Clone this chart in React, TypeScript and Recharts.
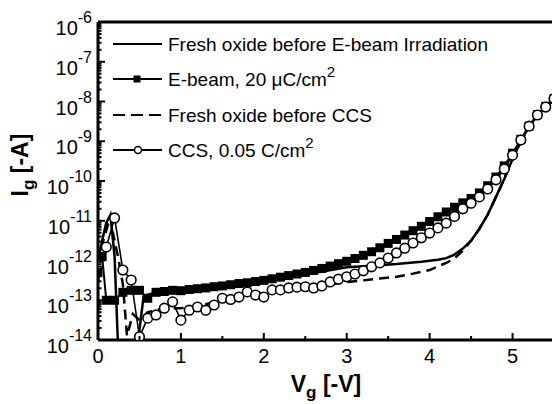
import { LineChart, Line, XAxis, YAxis, ReferenceLine } from "recharts";

const FONT = '"Liberation Sans", Arial, Helvetica, sans-serif';

// values are log10(Ig / A), V is gate voltage [-V]

// Fresh oxide before E-beam Irradiation (solid line)
const freshEbV = [0, 0.05, 0.1, 0.15, 0.2, 0.25, 0.45, 0.55, 0.7, 1.0, 1.5, 2.0, 2.5, 3.0, 3.3, 3.6, 3.9, 4.1, 4.2, 4.3, 4.4, 4.5, 4.6, 4.7, 4.8, 4.9, 5.0, 5.1, 5.2, 5.3, 5.4, 5.5];
const freshEbLog = [-12.0, -11.5, -11.05, -10.85, -11.9, -14.6, -14.6, -12.9, -12.8, -12.78, -12.66, -12.52, -12.35, -12.17, -12.13, -12.09, -12.03, -11.98, -11.94, -11.85, -11.7, -11.5, -11.2, -10.85, -10.4, -9.95, -9.45, -9.0, -8.62, -8.35, -8.14, -7.93];

// E-beam, 20 uC/cm2 (filled squares)
const ebeamV = [0, 0.05, 0.1, 0.2, 0.3, 0.4, 0.5, 0.6, 0.7, 0.8, 0.9, 1.0, 1.1, 1.2, 1.3, 1.4, 1.5, 1.6, 1.7, 1.8, 1.9, 2.0, 2.1, 2.2, 2.3, 2.4, 2.5, 2.6, 2.7, 2.8, 2.9, 3.0, 3.1, 3.2, 3.3, 3.4, 3.5, 3.6, 3.7, 3.8, 3.9, 4.0, 4.1, 4.2, 4.3, 4.4, 4.5, 4.6, 4.7, 4.8, 4.9, 5.0, 5.1, 5.2, 5.3, 5.4, 5.5];
const ebeamLog = [-12.3, -11.9, -13.0, -13.0, -12.8, -12.75, -12.75, -12.95, -12.8, -12.78, -12.75, -12.76, -12.73, -12.71, -12.69, -12.66, -12.64, -12.61, -12.58, -12.56, -12.53, -12.5, -12.46, -12.42, -12.38, -12.34, -12.3, -12.25, -12.2, -12.14, -12.08, -12.02, -11.95, -11.87, -11.78, -11.68, -11.57, -11.47, -11.36, -11.25, -11.14, -11.02, -10.9, -10.78, -10.66, -10.55, -10.44, -10.3, -10.12, -9.9, -9.62, -9.3, -8.95, -8.62, -8.33, -8.12, -7.93];

// Fresh oxide before CCS (dashed)
const freshCcsV = [0, 0.05, 0.12, 0.18, 0.25, 0.3, 0.35, 0.42, 0.5, 0.6, 0.7, 0.8, 1.0, 1.2, 1.4, 1.6, 1.8, 2.0, 2.2, 2.4, 2.6, 2.8, 3.0, 3.2, 3.4, 3.6, 3.8, 4.0, 4.2, 4.3, 4.4, 4.5, 4.6, 4.7, 4.8, 4.9, 5.0, 5.1, 5.2, 5.3, 5.4, 5.5];
const freshCcsLog = [-12.5, -11.6, -11.1, -11.3, -12.0, -12.6, -13.9, -13.35, -13.5, -13.3, -13.25, -13.2, -13.2, -13.15, -13.05, -12.95, -12.85, -12.82, -12.75, -12.7, -12.68, -12.6, -12.54, -12.5, -12.45, -12.41, -12.33, -12.24, -12.06, -11.95, -11.75, -11.5, -11.2, -10.85, -10.4, -9.95, -9.45, -9.0, -8.62, -8.35, -8.14, -7.93];

// CCS, 0.05 C/cm2 (open circles)
const ccsV = [0, 0.1, 0.2, 0.3, 0.4, 0.5, 0.6, 0.7, 0.8, 0.9, 1.0, 1.1, 1.2, 1.3, 1.4, 1.5, 1.6, 1.7, 1.8, 1.9, 2.0, 2.1, 2.2, 2.3, 2.4, 2.5, 2.6, 2.7, 2.8, 2.9, 3.0, 3.1, 3.2, 3.3, 3.4, 3.5, 3.6, 3.7, 3.8, 3.9, 4.0, 4.1, 4.2, 4.3, 4.4, 4.5, 4.6, 4.7, 4.8, 4.9, 5.0, 5.1, 5.2, 5.3, 5.4, 5.5];
const ccsLog = [-12.1, -11.66, -10.93, -12.24, -12.49, -13.92, -13.45, -13.37, -13.2, -13.04, -13.5, -13.25, -13.17, -13.25, -13.12, -12.95, -12.98, -12.92, -12.79, -12.87, -12.92, -12.74, -12.74, -12.69, -12.67, -12.66, -12.69, -12.64, -12.54, -12.47, -12.41, -12.34, -12.26, -12.16, -12.06, -11.94, -11.81, -11.69, -11.56, -11.43, -11.31, -11.18, -11.06, -10.89, -10.7, -10.56, -10.4, -10.2, -9.97, -9.7, -9.35, -8.97, -8.62, -8.34, -8.14, -7.93];

const xTicks = [0, 0.5, 1, 1.5, 2, 2.5, 3, 3.5, 4, 4.5, 5, 5.5];
const yDecades = [-14, -13, -12, -11, -10, -9, -8, -7, -6];

const zip = (v: number[], l: number[]) => v.map((x, i) => ({ v: x, log: l[i] }));

const yTicks: number[] = [];
yDecades.forEach((d) => {
  yTicks.push(d);
  if (d < -6) for (let k = 2; k <= 9; k++) yTicks.push(d + Math.log10(k));
});

const XTick = (p: any) => {
  const val = p.payload.value;
  const major = Number.isInteger(val);
  return (
    <g>
      <line x1={p.x} x2={p.x} y1={p.y} y2={p.y - (major ? 7 : 4)} stroke="#000" strokeWidth={2} />
      {major && (
        <text x={p.x} y={p.y + 23} textAnchor="middle" fontSize={20} fontFamily={FONT} fill="#000">
          {val}
        </text>
      )}
    </g>
  );
};

const YTick = (p: any) => {
  const val = p.payload.value;
  const major = Math.abs(val - Math.round(val)) < 1e-6;
  return (
    <g>
      <line x1={p.x} x2={p.x + (major ? 7 : 3.5)} y1={p.y} y2={p.y} stroke="#000" strokeWidth={2} />
      {major && (
        <text x={p.x - 6} y={p.y + 13} textAnchor="end" fontFamily={FONT} fill="#000">
          <tspan fontSize={20}>10</tspan>
          <tspan fontSize={16} dy={-12}>{Math.round(val)}</tspan>
        </text>
      )}
    </g>
  );
};

const SquareDot = (p: any) =>
  p.cx == null ? null : <rect key={`sq-${p.index}`} x={p.cx - 4.5} y={p.cy - 4.5} width={9} height={9} fill="#000" />;

const CircleDot = (p: any) =>
  p.cx == null ? null : <circle key={`ci-${p.index}`} cx={p.cx} cy={p.cy} r={4.8} fill="#fff" stroke="#000" strokeWidth={1.6} />;

const legendRows = [44, 79, 115, 150];

export default function App() {
  return (
    <div style={{ position: "absolute", left: 0, top: 0, width: 552, height: 404, overflow: "hidden", background: "#fff" }}>
      <LineChart width={556} height={404} margin={{ top: 22, right: 2, bottom: 0, left: 8 }}>
        <XAxis
          type="number"
          dataKey="v"
          domain={[0, 5.5]}
          ticks={xTicks}
          allowDataOverflow
          tickSize={0}
          tickMargin={0}
          tickLine={false}
          axisLine={{ stroke: "#000", strokeWidth: 3 }}
          tick={<XTick />}
          height={64}
          interval={0}
        />
        <YAxis
          type="number"
          dataKey="log"
          domain={[-14, -6]}
          ticks={yTicks}
          allowDataOverflow
          tickSize={0}
          tickMargin={0}
          tickLine={false}
          axisLine={{ stroke: "#000", strokeWidth: 3 }}
          tick={<YTick />}
          width={90}
          interval={0}
        />
        <ReferenceLine y={-6} stroke="#000" strokeWidth={3} />
        <Line data={zip(freshCcsV, freshCcsLog)} dataKey="log" stroke="#000" strokeWidth={2.5} strokeDasharray="10 6" dot={false} isAnimationActive={false} />
        <Line data={zip(freshEbV, freshEbLog)} dataKey="log" stroke="#000" strokeWidth={2.5} dot={false} isAnimationActive={false} />
        <Line data={zip(ebeamV, ebeamLog)} dataKey="log" stroke="#000" strokeWidth={2} dot={SquareDot} isAnimationActive={false} />
        <Line data={zip(ccsV, ccsLog)} dataKey="log" stroke="#000" strokeWidth={1.6} dot={CircleDot} isAnimationActive={false} />
      </LineChart>

      <svg width={552} height={404} style={{ position: "absolute", left: 0, top: 0, pointerEvents: "none" }} fontFamily={FONT}>
        {/* legend */}
        <line x1={113} x2={162} y1={legendRows[0]} y2={legendRows[0]} stroke="#000" strokeWidth={2} />
        <line x1={113} x2={162} y1={legendRows[1]} y2={legendRows[1]} stroke="#000" strokeWidth={2} />
        <rect x={133.5} y={legendRows[1] - 3.5} width={7} height={7} fill="#000" />
        <line x1={113} x2={162} y1={legendRows[2]} y2={legendRows[2]} stroke="#000" strokeWidth={2} strokeDasharray="12 6" />
        <line x1={113} x2={162} y1={legendRows[3]} y2={legendRows[3]} stroke="#000" strokeWidth={2} />
        <circle cx={138} cy={legendRows[3]} r={3.5} fill="#fff" stroke="#000" strokeWidth={1.5} />
        <text x={168} y={legendRows[0] + 7} fontSize={19}>Fresh oxide before E-beam Irradiation</text>
        <text x={168} y={legendRows[1] + 7} fontSize={19}>
          E-beam, 20 μC/cm<tspan fontSize={15} dy={-9}>2</tspan>
        </text>
        <text x={168} y={legendRows[2] + 7} fontSize={19}>Fresh oxide before CCS</text>
        <text x={168} y={legendRows[3] + 7} fontSize={19}>
          CCS, 0.05 C/cm<tspan fontSize={15} dy={-9}>2</tspan>
        </text>

        {/* axis titles */}
        <text x={326} y={392} textAnchor="middle" fontSize={23} fontWeight="bold">
          V<tspan fontSize={17} dy={6}>g</tspan>
          <tspan dy={-6}> [-V]</tspan>
        </text>
        <text transform="translate(28,165) rotate(-90)" textAnchor="middle" fontSize={23} fontWeight="bold">
          I<tspan fontSize={17} dy={6}>g</tspan>
          <tspan dy={-6}> [-A]</tspan>
        </text>
      </svg>
    </div>
  );
}
